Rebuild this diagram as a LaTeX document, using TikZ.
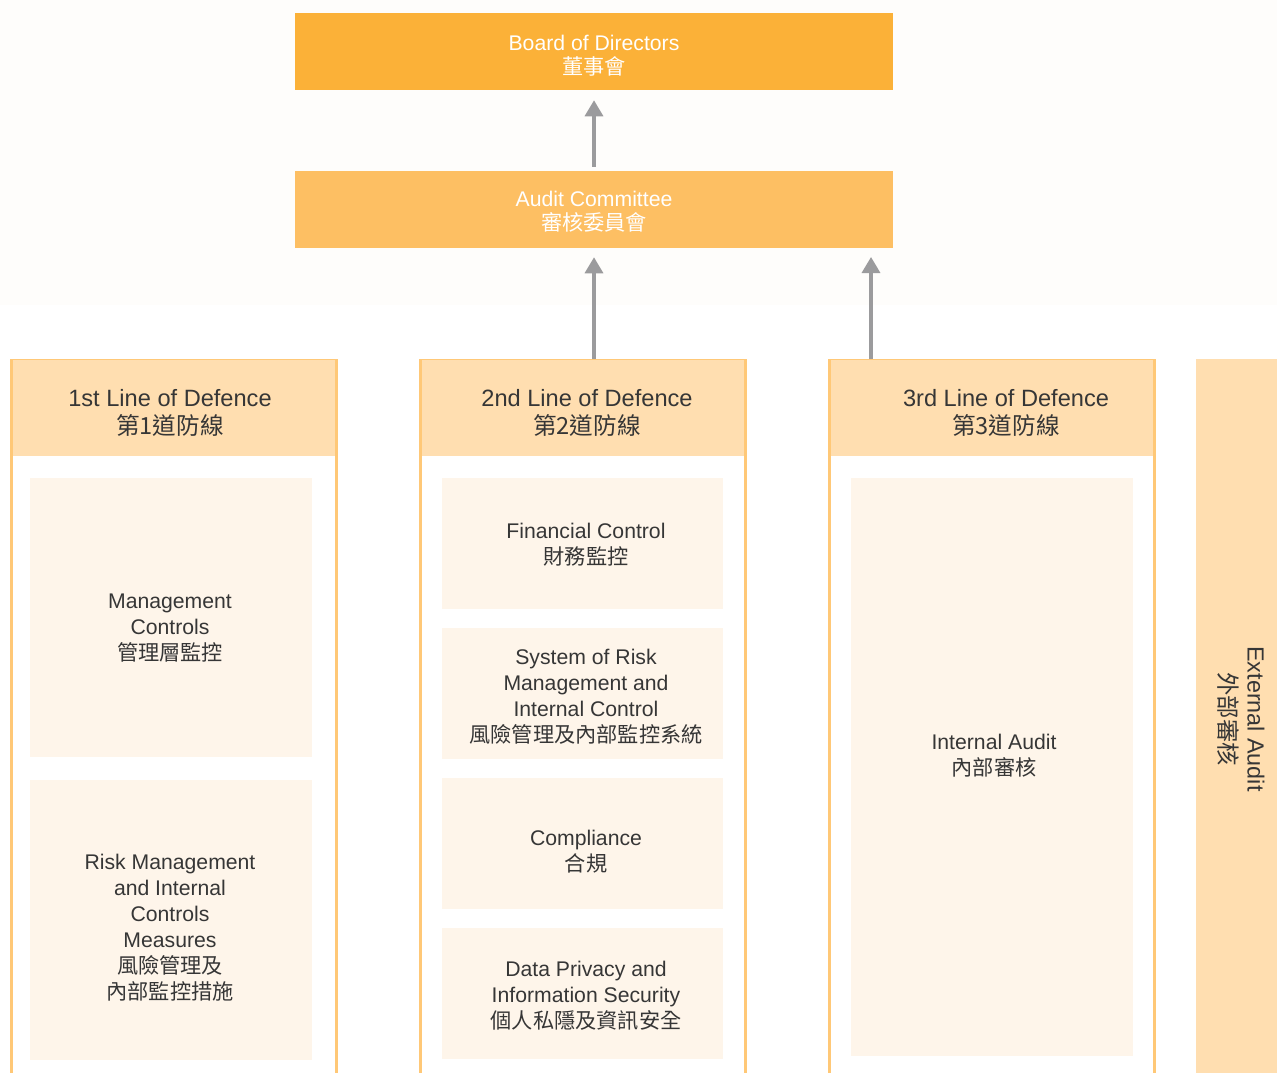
\documentclass[tikz,border=0pt]{standalone}
\usepackage{fontspec}
\setmainfont{Liberation Sans}
\newfontfamily\cjk{Noto Sans CJK TC}
\usetikzlibrary{arrows.meta}
\definecolor{boardc}{HTML}{FBB138}
\definecolor{auditc}{HTML}{FDBF63}
\definecolor{colborder}{HTML}{FFC877}
\definecolor{headc}{HTML}{FFDEB0}
\definecolor{innerc}{HTML}{FEF5EA}
\definecolor{arrowgray}{HTML}{9B9B9D}
\definecolor{txt}{HTML}{363636}
\definecolor{topbg}{HTML}{FEFDFB}
\begin{document}
\begin{tikzpicture}[x=0.75pt,y=-0.75pt,
  topbox/.style={rectangle, inner sep=0pt, minimum width=448.5pt, minimum height=57.75pt},
  colbox/.style={rectangle, draw=colborder, line width=2.25pt, fill=white, inner sep=0pt,
                 minimum width=243.75pt, minimum height=555pt, anchor=north},
  headbox/.style={rectangle, fill=headc, inner sep=0pt, minimum width=241.5pt, minimum height=71.5pt, anchor=north},
  innerbox/.style={rectangle, fill=innerc, inner sep=0pt},
  toptext/.style={align=center, text=white, inner sep=0pt, font=\fontsize{15.9}{18}\selectfont},
  headtext/.style={align=center, text=txt, inner sep=0pt, font=\fontsize{17.7}{21}\selectfont},
  bodytext/.style={align=center, text=txt, inner sep=0pt, font=\fontsize{15.9}{19.5}\selectfont},
  arr/.style={draw=arrowgray, line width=2.5pt, -{Triangle[width=13.5pt,length=12pt]}}
]
\useasboundingbox (0,0) rectangle (1277,1073);
\clip (0,0) rectangle (1277,1073);
\fill[topbg] (0,0) rectangle (1277,305);

% top boxes
\node[topbox, fill=boardc] (board) at (594,51.5) {};
\node[toptext] (boardt) at (594,55.5) {Board of Directors\\{\cjk 董事會}};
\node[topbox, fill=auditc] (audit) at (594,209.5) {};
\node[toptext] (auditt) at (594,211.5) {Audit Committee\\{\cjk 審核委員會}};

% columns
\node[colbox] (col1) at (174,359) {};
\node[colbox] (col2) at (583,359) {};
\node[colbox] (col3) at (992,359) {};
\node[headbox] (h1) at (174,360) {};
\node[headbox] (h2) at (583,360) {};
\node[headbox] (h3) at (992,360) {};
\node[headtext] (h1t) at (170,412.5) {1st Line of Defence\\{\cjk 第1道防線}};
\node[headtext] (h2t) at (587,412.5) {2nd Line of Defence\\{\cjk 第2道防線}};
\node[headtext] (h3t) at (1006,412.5) {3rd Line of Defence\\{\cjk 第3道防線}};

% inner boxes col1
\node[innerbox, minimum width=211.5pt, minimum height=209.25pt] (m1) at (171,617.5) {};
\node[innerbox, minimum width=211.5pt, minimum height=210pt] (r1) at (171,920) {};
\node[bodytext] (m1t) at (170,628.5) {Management\\Controls\\{\cjk 管理層監控}};
\node[bodytext] (r1t) at (170,927.5) {Risk Management\\and Internal\\Controls\\Measures\\{\cjk 風險管理及}\\{\cjk 內部監控措施}};

% inner boxes col2
\node[innerbox, minimum width=210.75pt, minimum height=98.25pt] (fc) at (582.5,543.5) {};
\node[innerbox, minimum width=210.75pt, minimum height=98.25pt] (sr) at (582.5,693.5) {};
\node[innerbox, minimum width=210.75pt, minimum height=98.25pt] (cp) at (582.5,843.5) {};
\node[innerbox, minimum width=210.75pt, minimum height=98.25pt] (dp) at (582.5,993.5) {};
\node[bodytext] (fct) at (586,544.5) {Financial Control\\{\cjk 財務監控}};
\node[bodytext] (srt) at (586,696.5) {System of Risk\\Management and\\Internal Control\\{\cjk 風險管理及內部監控系統}};
\node[bodytext] (cpt) at (586,851.5) {Compliance\\{\cjk 合規}};
\node[bodytext] (dpt) at (586,995.5) {Data Privacy and\\Information Security\\{\cjk 個人私隱及資訊安全}};

% inner box col3
\node[innerbox, minimum width=211.5pt, minimum height=433.5pt] (ia) at (992,767) {};
\node[bodytext] (iat) at (994,755.5) {Internal Audit\\{\cjk 內部審核}};

% external audit
\node[rectangle, fill=headc, inner sep=0pt, minimum width=67.5pt, minimum height=540pt, anchor=north west] (ea) at (1196,359) {};
\node[headtext, rotate=-90, font=\fontsize{17.5}{21}\selectfont] (eat) at (1241,719) {External Audit\\{\cjk 外部審核}};

% arrows
\coordinate (tip3) at (871,257);
\draw[arr] ([yshift=3pt]audit.north) -- ([yshift=-7.5pt]board.south);
\draw[arr] (col2.north -| audit.south) -- ([yshift=-6.75pt]audit.south);
\draw[arr] (col3.north -| tip3) -- (tip3);
\end{tikzpicture}
\end{document}
